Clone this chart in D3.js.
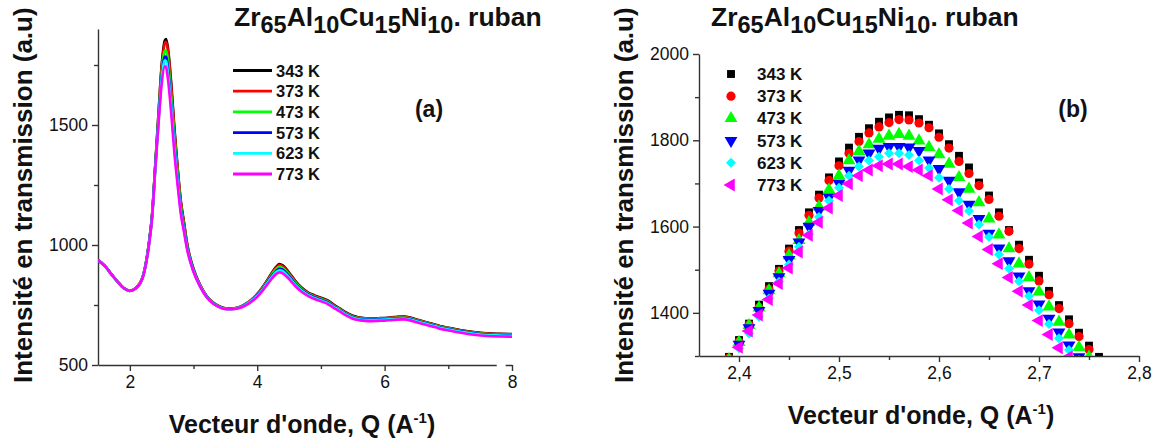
<!DOCTYPE html>
<html><head><meta charset="utf-8">
<script src="https://cdn.jsdelivr.net/npm/d3@7"></script>
<style>
html,body{margin:0;padding:0;background:#fff;}
svg{display:block;font-family:"Liberation Sans",Arial,sans-serif;}
</style></head>
<body><svg id="c" width="1161" height="442"></svg>
<script>
// ---------- DATA ----------
const seriesNames = ["343 K","373 K","473 K","573 K","623 K","773 K"];
const seriesColors = ["#000000","#ff0000","#00ff00","#0000ff","#00ffff","#ff00ff"];

// Panel (a): full pattern
const qA = [1.5,1.6,1.65,1.7,1.8,1.9,2.0,2.1,2.2,2.3,2.35,2.4,2.45,2.5,2.55,2.57,2.6,2.65,2.7,2.75,2.8,2.85,2.9,3.0,3.1,3.2,3.3,3.4,3.5,3.6,3.7,3.8,3.9,4.0,4.1,4.2,4.3,4.35,4.4,4.5,4.6,4.7,4.8,4.9,5.0,5.1,5.2,5.3,5.4,5.5,5.6,5.7,5.8,5.9,6.0,6.1,6.2,6.3,6.4,6.5,6.6,6.7,6.8,6.9,7.0,7.2,7.4,7.6,7.8,8.0];
const iA343 = [937,915,900,882,850,822,810,822,865,1010,1130,1337,1549,1751,1853,1858,1816,1672,1486,1324,1185,1095,1005,900,835,790,762,745,736,735,740,752,770,795,830,872,910,921,915,885,850,822,802,790,780,770,752,735,718,705,698,695,694,695,696,698,701,702,698,690,682,675,668,660,655,645,637,632,630,629];
const iA373 = [937,915,900,882,850,822,810,822,865,1008,1127,1333,1543,1741,1841,1847,1807,1663,1474,1315,1178,1090,1000,898,834,789,761,745,736,735,740,752,770,795,829,870,906,916,911,882,848,820,800,788,778,768,750,733,716,703,697,694,693,694,695,697,700,701,697,689,681,674,667,659,654,644,636,631,629,628];
const iA473 = [936,914,899,881,849,821,809,821,864,1006,1125,1332,1533,1718,1810,1810,1767,1618,1449,1298,1165,1080,995,895,832,788,760,744,735,734,739,750,768,792,826,865,900,909,904,876,843,816,797,785,775,765,747,731,714,701,695,692,691,692,693,695,697,698,694,686,679,672,665,657,652,642,634,629,627,626];
const iA573 = [936,914,899,881,849,821,809,821,863,1004,1122,1327,1523,1700,1785,1784,1734,1584,1420,1275,1150,1070,990,893,831,787,759,743,735,734,738,749,766,790,823,860,893,901,897,870,838,812,794,782,772,762,744,728,712,699,693,690,689,690,691,693,695,696,692,684,677,670,663,655,650,640,632,627,625,624];
const iA623 = [936,914,899,881,849,821,809,821,863,1002,1118,1318,1512,1690,1770,1766,1713,1576,1406,1265,1140,1062,985,890,830,786,758,742,734,733,737,748,765,788,820,856,888,895,891,865,834,809,791,779,769,759,742,726,710,697,691,688,687,688,689,691,693,694,690,682,675,668,661,653,648,638,630,625,623,622];
const iA773 = [936,914,899,881,849,821,809,821,862,1000,1115,1320,1504,1672,1745,1739,1687,1547,1381,1250,1130,1055,980,887,828,785,757,741,733,732,736,746,762,784,815,850,880,886,882,858,828,804,787,775,765,755,738,722,706,693,687,684,683,684,685,687,689,690,686,678,671,664,657,649,644,634,626,621,619,618];

// Panel (b): zoom on the first peak
const qB = [2.39,2.40,2.41,2.42,2.43,2.44,2.45,2.46,2.47,2.48,2.49,2.50,2.51,2.52,2.53,2.54,2.55,2.56,2.57,2.58,2.59,2.60,2.61,2.62,2.63,2.64,2.65,2.66,2.67,2.68,2.69,2.70,2.71,2.72,2.73,2.74,2.75,2.76];
const iB343 = [1298,1337,1375,1419,1462,1502,1549,1592,1633,1674,1714,1751,1783,1808,1828,1843,1853,1859,1858,1849,1836,1816,1791,1764,1737,1702,1672,1633,1592,1558,1523,1486,1451,1418,1385,1354,1324,1298];
const iB373 = [1296,1333,1373,1412,1455,1497,1543,1585,1626,1666,1707,1741,1770,1797,1817,1831,1841,1848,1847,1840,1829,1807,1782,1751,1723,1695,1663,1624,1589,1549,1513,1474,1442,1410,1375,1345,1315,1290];
const iB473 = [1292,1332,1371,1412,1452,1491,1533,1568,1610,1646,1685,1718,1753,1774,1790,1803,1810,1814,1810,1799,1784,1767,1745,1714,1687,1656,1618,1581,1549,1514,1482,1449,1414,1379,1349,1320,1298,1275];
const iB573 = [1290,1327,1365,1405,1445,1483,1523,1564,1600,1637,1668,1700,1730,1754,1770,1781,1785,1785,1784,1776,1754,1734,1707,1680,1651,1618,1584,1550,1520,1485,1451,1420,1387,1355,1325,1298,1270,1245];
const iB623 = [1285,1318,1352,1391,1433,1472,1512,1553,1582,1622,1660,1690,1718,1739,1753,1762,1770,1770,1766,1753,1736,1713,1687,1660,1636,1605,1576,1535,1503,1473,1439,1406,1374,1341,1314,1290,1265,1240];
const iB773 = [1283,1320,1358,1395,1431,1468,1504,1541,1580,1610,1643,1672,1699,1718,1731,1741,1745,1745,1739,1731,1718,1687,1662,1637,1608,1577,1547,1514,1482,1450,1418,1382,1350,1319,1298,1275,1250,1225];

const ticksAx = [2,4,6,8], minorAx = [3,5,7];
const ticksAy = [500,1000,1500], minorAy = [750,1250,1750];
const ticksBx = [2.4,2.5,2.6,2.7,2.8], minorBx = [2.45,2.55,2.65,2.75];
const ticksBy = [1400,1600,1800,2000], minorBy = [1300,1500,1700,1900];

// ---------- DRAW ----------
const svg = d3.select("#c");
const seriesA = [iA343,iA373,iA473,iA573,iA623,iA773];
const seriesB = [iB343,iB373,iB473,iB573,iB623,iB773];

const xA = d3.scaleLinear().domain([1.5,8]).range([98,512]);
const yA = d3.scaleLinear().domain([500,1900]).range([365,29]);
const xB = d3.scaleLinear().domain([2.36,2.8]).range([699,1139]);
const yB = d3.scaleLinear().domain([1300,2000]).range([356,54]);

const axisColor = "#333";
function drawAxes(x, y, tx, mx, ty, my, fmt) {
  const gx = svg.append("g").attr("transform", `translate(0,${y.range()[0]})`)
    .call(d3.axisBottom(x).tickValues(tx).tickSize(6).tickSizeOuter(0).tickPadding(5).tickFormat(fmt));
  const gxm = svg.append("g").attr("transform", `translate(0,${y.range()[0]})`)
    .call(d3.axisBottom(x).tickValues(mx).tickSize(4).tickSizeOuter(0).tickFormat(""));
  gxm.select(".domain").remove();
  const gy = svg.append("g").attr("transform", `translate(${x.range()[0]},0)`)
    .call(d3.axisLeft(y).tickValues(ty).tickSize(6).tickSizeOuter(0).tickPadding(4).tickFormat(d3.format("d")));
  const gym = svg.append("g").attr("transform", `translate(${x.range()[0]},0)`)
    .call(d3.axisLeft(y).tickValues(my).tickSize(4).tickSizeOuter(0).tickFormat(""));
  gym.select(".domain").remove();
  [gx,gxm,gy,gym].forEach(g=>{
    g.selectAll("path,line").attr("stroke",axisColor).attr("stroke-width",1.4);
    g.selectAll("text").attr("font-size",17.5).attr("fill","#111")
      .attr("font-family","'Liberation Sans',Arial,sans-serif");
  });
  return {gx,gy};
}

drawAxes(xA, yA, ticksAx, minorAx, ticksAy, minorAy, d3.format("d"));
drawAxes(xB, yB, ticksBx, minorBx, ticksBy, minorBy, d => d3.format(".1f")(d).replace(".",","));
// small break in the x axis of panel (a) near its end
svg.append("rect").attr("x",xA(7.76)).attr("y",yA(500)-2).attr("width",xA(7.9)-xA(7.76)).attr("height",4).attr("fill","#fff");

// clips
const defs = svg.append("defs");
defs.append("clipPath").attr("id","clipA").append("rect")
  .attr("x",xA(1.5)).attr("y",yA(1900)).attr("width",xA(8)-xA(1.5)+2).attr("height",yA(500)-yA(1900));
defs.append("clipPath").attr("id","clipB").append("rect")
  .attr("x",xB(2.36)).attr("y",yB(2000)).attr("width",xB(2.8)-xB(2.36)).attr("height",yB(1300)-yB(2000));

// panel (a) lines
const gA = svg.append("g").attr("clip-path","url(#clipA)");
seriesA.forEach((vals,i)=>{
  const line = d3.line().x((d,j)=>xA(qA[j])).y(d=>yA(d)).curve(d3.curveMonotoneX);
  gA.append("path").datum(vals).attr("d",line).attr("fill","none")
    .attr("stroke",seriesColors[i]).attr("stroke-width",2.6).attr("stroke-linejoin","round");
});

// panel (b) markers
const symbols = [
  {t:d3.symbolSquare, s:62, r:0},
  {t:d3.symbolCircle, s:66, r:0},
  {t:d3.symbolTriangle, s:72, r:0},
  {t:d3.symbolTriangle, s:72, r:180},
  {t:d3.symbolSquare, s:50, r:45},
  {t:d3.symbolTriangle, s:72, r:-90}
];
const gB = svg.append("g").attr("clip-path","url(#clipB)");
seriesB.forEach((vals,i)=>{
  const sym = d3.symbol().type(symbols[i].t).size(symbols[i].s);
  gB.selectAll(null).data(vals).enter().append("path")
    .attr("d",sym)
    .attr("transform",(d,j)=>`translate(${xB(qB[j])},${yB(d)}) rotate(${symbols[i].r})`)
    .attr("fill",seriesColors[i]);
});

// legends
const legA = svg.append("g");
seriesNames.forEach((n,i)=>{
  const yy = 70.5 + i*20.7;
  legA.append("line").attr("x1",233).attr("x2",272).attr("y1",yy).attr("y2",yy)
    .attr("stroke",seriesColors[i]).attr("stroke-width",2.8);
  legA.append("text").attr("x",276).attr("y",yy+6).text(n)
    .attr("font-size",16.5).attr("font-weight","bold").attr("fill","#111");
});
const legB = svg.append("g");
seriesNames.forEach((n,i)=>{
  const yy = 74 + i*22.2;
  const sym = d3.symbol().type(symbols[i].t).size(symbols[i].s);
  legB.append("path").attr("d",sym).attr("transform",`translate(731,${yy}) rotate(${symbols[i].r})`)
    .attr("fill",seriesColors[i]);
  legB.append("text").attr("x",757).attr("y",yy+6).text(n)
    .attr("font-size",17).attr("font-weight","bold").attr("fill","#111");
});

// panel labels
svg.append("text").attr("x",429).attr("y",117).attr("text-anchor","middle").text("(a)")
  .attr("font-size",23).attr("font-weight","bold").attr("fill","#111");
svg.append("text").attr("x",1073).attr("y",117).attr("text-anchor","middle").text("(b)")
  .attr("font-size",23).attr("font-weight","bold").attr("fill","#111");

// titles with subscripts
function title(x) {
  const t = svg.append("text").attr("x",x).attr("y",26).attr("font-weight","bold")
    .attr("font-size",26.5).attr("fill","#111");
  const parts = [["Zr",0],["65",1],["Al",0],["10",1],["Cu",0],["15",1],["Ni",0],["10",1],[". ruban",0]];
  let prev = 0;
  parts.forEach(([s,sub])=>{
    const dy = sub ? 7 : (prev ? -7 : 0);
    t.append("tspan").attr("dy",dy).attr("font-size",sub?23.5:26.5).text(s);
    prev = sub;
  });
}
title(234);
title(711);

// axis titles
function xTitle(cx, y) {
  const t = svg.append("text").attr("x",cx).attr("y",y).attr("text-anchor","middle")
    .attr("font-weight","bold").attr("font-size",25).attr("fill","#111");
  t.append("tspan").text("Vecteur d'onde, Q (A");
  t.append("tspan").attr("dy",-10).attr("font-size",15).text("-1");
  t.append("tspan").attr("dy",10).text(")");
}
xTitle(302, 433);
xTitle(921, 424);
function yTitle(x) {
  svg.append("text").attr("transform",`translate(${x},383) rotate(-90)`)
    .attr("font-weight","bold").attr("font-size",26).attr("fill","#111")
    .text("Intensité en transmission (a.u)");
}
yTitle(32);
yTitle(633);
</script></body></html>
